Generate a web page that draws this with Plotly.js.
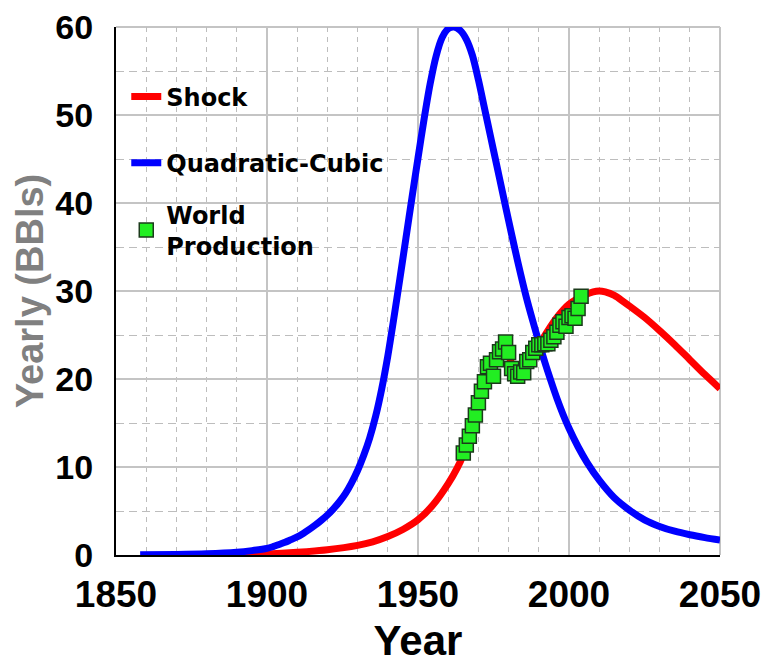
<!DOCTYPE html>
<html>
<head>
<meta charset="utf-8">
<script src="https://cdn.plot.ly/plotly-3.0.1.min.js"></script>
<style>html,body{margin:0;padding:0;background:#fff;}</style>
</head>
<body>
<div id="chart" style="width:764px;height:664px;"></div>
<script>
// Quadratic-Cubic model (blue)
const quadYears = [1858,1870,1880,1890,1895,1900,1902,1904,1906,1908,1910,1912,1914,1916,1918,1920,1922,1924,1926,1928,1930,1932,1934,1936,1938,1940,1942,1944,1946,1948,1950,1952,1954,1956,1958,1960,1962,1964,1966,1968,1970,1972,1974,1976,1978,1980,1982,1984,1986,1988,1990,1992,1994,1996,1998,2000,2003,2006,2010,2015,2020,2025,2030,2035,2040,2045,2050];
const quadValues = [0.02,0.06,0.14,0.32,0.5,0.75,0.95,1.2,1.45,1.75,2.05,2.45,2.9,3.4,3.95,4.55,5.25,6.05,7.0,8.2,9.6,11.3,13.3,15.8,18.9,22.6,26.9,31.4,36.0,40.6,45.1,49.5,53.5,56.7,58.8,59.8,60,59.6,58.6,56.8,54.0,50.8,47.6,44.4,41.2,38.0,34.9,31.9,29.1,26.6,24.2,21.9,19.8,17.8,16.0,14.4,12.3,10.5,8.5,6.5,5.1,4.0,3.25,2.7,2.3,1.98,1.7];

// Shock model (red)
const shockYears = [1888,1900,1910,1920,1930,1935,1940,1945,1950,1955,1960,1963,1965,1968,1970,1973,1976,1978,1980,1982,1983,1985,1988,1990,1993,1996,2000,2005,2008,2010,2012,2015,2018,2020,2025,2030,2035,2040,2045,2050];
const shockValues = [0,0.1,0.3,0.6,1.1,1.5,2.1,2.9,4.0,5.7,8.1,9.9,11.4,14.5,16.8,20.0,22.4,23.3,22.6,20.8,20.3,21.0,22.6,23.8,25.5,27.0,28.5,29.5,29.9,30.0,29.9,29.5,28.8,28.3,27.0,25.5,23.9,22.2,20.5,18.9];

// World production (green squares)
const prodYears = [1965,1966,1967,1968,1969,1970,1971,1972,1973,1974,1975,1976,1977,1978,1979,1980,1981,1982,1983,1984,1985,1986,1987,1988,1989,1990,1991,1992,1993,1994,1995,1996,1997,1998,1999,2000,2001,2002,2003,2004];
const prodValues = [11.6,12.5,13.5,14.7,15.9,17.3,18.6,19.7,21.4,21.8,20.3,22.2,23.1,23.4,24.2,23.0,21.2,20.6,20.3,20.8,20.7,22.0,22.2,23.0,23.5,23.9,23.9,24.0,24.0,24.4,24.8,25.3,26.1,26.5,26.0,27.0,27.2,26.9,28.0,29.4];

const xTicks = [1850,1900,1950,2000,2050];
const yTicks = [0,10,20,30,40,50,60];

const traces = [
  {x: shockYears, y: shockValues, type:'scatter', mode:'lines', name:'Shock',
   line:{color:'#ff0000', width:7, shape:'spline', smoothing:0.8}, legend:'legend', legendgroup:'a'},
  {x: quadYears, y: quadValues, type:'scatter', mode:'lines', name:'Quadratic-Cubic',
   line:{color:'#0000ff', width:7, shape:'spline', smoothing:0.8}, legend:'legend', legendgroup:'b'},
  {x: prodYears, y: prodValues, type:'scatter', mode:'markers', name:'World<br>Production',
   marker:{symbol:'square', size:14, color:'#22ee22', line:{color:'#1b3b1b', width:1.5}}, legend:'legend2'}
];

const gridMajor = '#c4c4c4';
const gridMinor = '#bdbdbd';
const tickFontX = {family:'Liberation Sans, Arial, sans-serif', size:37, color:'#000', weight:'bold'};
const tickFontY = {family:'Liberation Sans, Arial, sans-serif', size:34, color:'#000', weight:'bold'};

const layout = {
  width:764, height:664,
  margin:{l:116, r:44, t:27, b:109},
  paper_bgcolor:'#fff', plot_bgcolor:'#fff',
  showlegend:true,
  xaxis:{
    range:[1850,2050], tickvals:xTicks, ticktext:xTicks.map(String),
    showgrid:true, gridcolor:gridMajor, gridwidth:2,
    minor:{dtick:10, tick0:1850, showgrid:true, gridcolor:gridMinor, gridwidth:1, griddash:'5px,5px'},
    showline:true, linecolor:'#000', linewidth:2, zeroline:false,
    ticks:'', ticklabelstandoff:6, tickfont:tickFontX,
    title:{text:'Year', font:{family:'Liberation Sans, Arial, sans-serif', size:42, color:'#000', weight:'bold'}, standoff:28},
    fixedrange:true
  },
  yaxis:{
    range:[0,60], tickvals:yTicks, ticktext:yTicks.map(String),
    showgrid:true, gridcolor:gridMajor, gridwidth:2,
    minor:{dtick:5, tick0:0, showgrid:true, gridcolor:gridMinor, gridwidth:1, griddash:'8px,5px'},
    showline:true, linecolor:'#000', linewidth:2, zeroline:false,
    ticks:'', ticklabelstandoff:14, tickfont:tickFontY,
    title:{text:'Yearly (BBls)', font:{family:'Liberation Sans, Arial, sans-serif', size:38, color:'#808080', weight:'bold'}, standoff:0},
    fixedrange:true
  },
  shapes:[
    {type:'line', xref:'paper', yref:'paper', x0:0, x1:1, y0:1, y1:1, line:{color:gridMajor, width:2}, layer:'below'},
    {type:'line', xref:'paper', yref:'paper', x0:1, x1:1, y0:0, y1:1, line:{color:gridMajor, width:2}, layer:'below'}
  ],
  legend:{
    x:0.017, y:0.91, xanchor:'left', yanchor:'top',
    bgcolor:'rgba(0,0,0,0)', borderwidth:0,
    font:{family:'DejaVu Sans, sans-serif', size:24, color:'#000', weight:'bold'},
    tracegroupgap:32, traceorder:'grouped'
  },
  legend2:{
    x:0.017, y:0.687, xanchor:'left', yanchor:'top',
    bgcolor:'rgba(0,0,0,0)', borderwidth:0,
    font:{family:'DejaVu Sans, sans-serif', size:24, color:'#000', weight:'bold'}
  }
};

Plotly.newPlot('chart', traces, layout, {staticPlot:true, displayModeBar:false});
</script>
</body>
</html>
